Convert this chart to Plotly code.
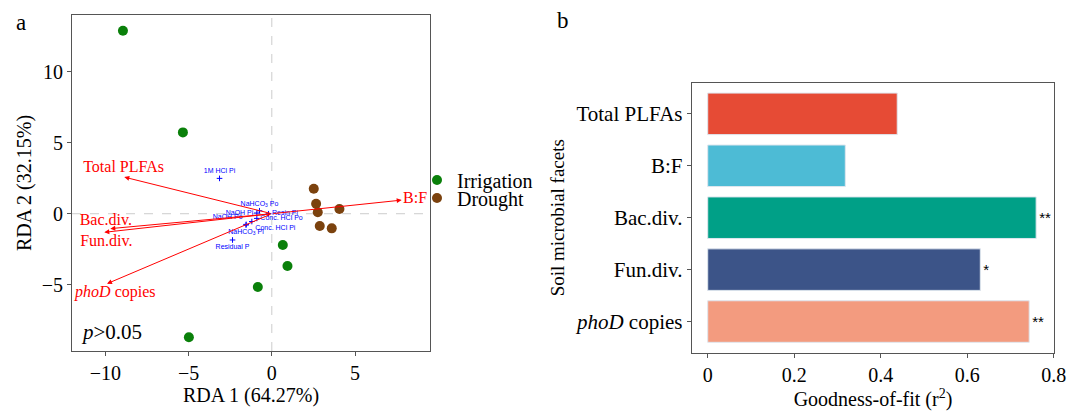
import plotly.graph_objects as go

# ---------- Panel a data (RDA) ----------
irr_x = [-8.94, -5.34, 0.66, 0.94, -0.84, -4.98]
irr_y = [12.89, 5.73, -2.2, -3.68, -5.16, -8.70]
dro_x = [2.52, 2.66, 2.76, 4.06, 2.88, 3.60]
dro_y = [1.76, 0.70, 0.10, 0.33, -0.87, -1.03]

arrow_names = ["Total PLFAs", "B:F", "Bac.div.", "Fun.div.", "<i>phoD</i> copies"]
arrow_x = [-8.86, 7.8, -9.7, -10.06, -9.9]
arrow_y = [2.58, 0.96, -1.05, -1.31, -4.93]
arrow_lab_x = [-8.9, 7.88, -9.97, -9.94, -9.4]
arrow_lab_y = [3.2, 1.05, -0.5, -2.0, -5.6]

env_names = ["1M HCl Pi", "NaHCO<sub>3</sub> Po", "NaOH Pi", "Resin Pi", "NaOH Po",
             "Conc. HCl Po", "Conc. HCl Pi", "NaHCO<sub>3</sub> Pi", "Residual P"]
env_x = [-3.14, -0.74, -0.9, -0.2, -1.54, -0.9, -1.2, -1.55, -2.36]
env_y = [2.49, 0.21, 0.05, 0.0, -0.75, -0.33, -0.55, -0.8, -1.85]
env_pos = ["top center", "top center", "middle left", "middle right", "top left",
           "middle right", "bottom right", "bottom center", "bottom center"]

# ---------- Panel b data ----------
facets = ["Total PLFAs", "B:F", "Bac.div.", "Fun.div.", "<i>phoD</i> copies"]
r2 = [0.438, 0.318, 0.759, 0.630, 0.743]
signif = ["", "", "**", "*", "**"]
bar_colors = ["#E64B35", "#4DBBD5", "#00A087", "#3C5488", "#F39B7F"]

FONT = "Liberation Serif"
GREEN = "#0A800A"
BROWN = "#7B420E"

fig = go.Figure()

fig.add_trace(go.Scatter(x=irr_x, y=irr_y, mode="markers", name="Irrigation",
                         marker=dict(color=GREEN, size=10), xaxis="x", yaxis="y",
                         legend="legend"))
fig.add_trace(go.Scatter(x=dro_x, y=dro_y, mode="markers", name="Drought",
                         marker=dict(color=BROWN, size=10), xaxis="x", yaxis="y",
                         legend="legend2"))
fig.add_trace(go.Scatter(x=env_x, y=env_y, mode="markers+text", text=env_names,
                         textposition=env_pos, showlegend=False,
                         marker=dict(symbol="cross-thin", size=4, color="blue",
                                     line=dict(color="blue", width=1)),
                         textfont=dict(family="Liberation Sans", size=7, color="blue"),
                         xaxis="x", yaxis="y", cliponaxis=False))
fig.add_trace(go.Scatter(x=arrow_lab_x, y=arrow_lab_y, mode="text", text=arrow_names,
                         textposition=["middle center", "middle right", "middle center",
                                       "middle center", "middle center"],
                         textfont=dict(family=FONT, size=16, color="red"),
                         showlegend=False, xaxis="x", yaxis="y", cliponaxis=False))

fig.add_trace(go.Bar(x=r2, y=facets, orientation="h", marker=dict(color=bar_colors,
                     line=dict(color="#dfe6ee", width=1)), width=0.8,
                     text=signif, textposition="outside",
                     textfont=dict(family="Liberation Sans", size=15, color="black"),
                     cliponaxis=False, showlegend=False, xaxis="x2", yaxis="y2"))

anns = []
for hx, hy in zip(arrow_x, arrow_y):
    anns.append(dict(x=hx, y=hy, ax=0, ay=0, xref="x", yref="y", axref="x", ayref="y",
                     showarrow=True, arrowhead=2, arrowsize=1, arrowwidth=1,
                     arrowcolor="red", text=""))
anns.append(dict(x=-11.6, y=-8.3, xref="x", yref="y", text="<i>p</i>>0.05", showarrow=False,
                 xanchor="left", yanchor="middle", font=dict(family=FONT, size=21, color="black")))
anns.append(dict(x=21 / 1069, y=1 - 22 / 411, xref="paper", yref="paper", text="a",
                 xanchor="center", yanchor="middle",
                 showarrow=False, font=dict(family=FONT, size=23, color="black")))
anns.append(dict(x=563 / 1069, y=1 - 20 / 411, xref="paper", yref="paper", text="b",
                 xanchor="center", yanchor="middle",
                 showarrow=False, font=dict(family=FONT, size=23, color="black")))

shapes = [
    dict(type="line", xref="x", yref="y domain", x0=0, x1=0, y0=0, y1=1,
         line=dict(color="#cccccc", width=1, dash="dash"), layer="below"),
    dict(type="line", xref="x domain", yref="y", x0=0, x1=1, y0=0, y1=0,
         line=dict(color="#cccccc", width=1, dash="dash"), layer="below"),
]

axis_common = dict(showgrid=False, zeroline=False, showline=True, mirror=True,
                   linecolor="#555555", linewidth=1, ticks="outside", ticklen=4,
                   tickcolor="#555555")
tick_a = dict(family=FONT, size=20, color="black")
tick_b = dict(family=FONT, size=20, color="black")
tick_by = dict(family=FONT, size=21, color="black")
leg_common = dict(xanchor="left", yanchor="middle", font=dict(family=FONT, size=20, color="black"),
                  itemwidth=30, bgcolor="rgba(0,0,0,0)", borderwidth=0)

fig.update_layout(
    width=1069, height=411, margin=dict(l=0, r=0, t=0, b=0, autoexpand=False),
    plot_bgcolor="white", paper_bgcolor="white",
    font=dict(family=FONT, color="black"),
    xaxis=dict(domain=[72 / 1069, 430 / 1069], range=[-12, 9.5], tickvals=[-10, -5, 0, 5],
               ticktext=["\u221210", "\u22125", "0", "5"], tickfont=tick_a,
               title=dict(text="RDA 1 (64.27%)", font=dict(family=FONT, size=20), standoff=2),
               **axis_common),
    yaxis=dict(domain=[60 / 411, 396 / 411], range=[-9.67, 14.0], tickvals=[-5, 0, 5, 10],
               ticktext=["\u22125", "0", "5", "10"], tickfont=tick_a,
               title=dict(text="RDA 2 (32.15%)", font=dict(family=FONT, size=20), standoff=4),
               **axis_common),
    xaxis2=dict(domain=[691.7 / 1069, 1054.3 / 1069], range=[-0.037, 0.801],
                tickvals=[0, 0.2, 0.4, 0.6, 0.8], ticktext=["0", "0.2", "0.4", "0.6", "0.8"],
                tickfont=tick_b,
                title=dict(text="Goodness-of-fit (r<sup>2</sup>)", font=dict(family=FONT, size=20), standoff=3),
                anchor="y2", **axis_common),
    yaxis2=dict(domain=[58.3 / 411, 328.3 / 411], range=[4.6, -0.6], tickfont=tick_by,
                title=dict(text="Soil microbial facets", font=dict(family=FONT, size=19), standoff=5),
                anchor="x2", **axis_common),
    legend=dict(x=417 / 1069, y=1 - 180 / 411, **leg_common),
    legend2=dict(x=417 / 1069, y=1 - 198 / 411, **leg_common),
    annotations=anns, shapes=shapes,
)

fig.write_html("out.html")
